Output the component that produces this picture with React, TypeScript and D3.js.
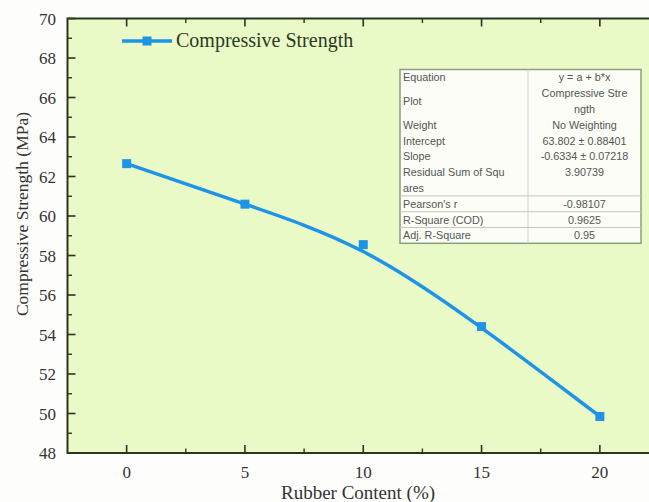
import React from "react";
import * as d3 from "d3";

// data
const rubberContent = [0, 5, 10, 15, 20];
const compressiveStrength = [62.65, 60.6, 58.55, 54.4, 49.85];
const xMajorTicks = [0, 5, 10, 15, 20];
const xMinorTicks = [2.5, 7.5, 12.5, 17.5];
const yMajorTicks = [48, 50, 52, 54, 56, 58, 60, 62, 64, 66, 68, 70];
const yMinorTicks = [49, 51, 53, 55, 57, 59, 61, 63, 65, 67, 69];
const seriesName = "Compressive Strength";

const tableLabels = [
  ["Equation"],
  ["Plot"],
  ["Weight"],
  ["Intercept"],
  ["Slope"],
  ["Residual Sum of Squ", "ares"],
  ["Pearson's r"],
  ["R-Square (COD)"],
  ["Adj. R-Square"],
];
const tableValues = [
  ["y = a + b*x"],
  ["Compressive Stre", "ngth"],
  ["No Weighting"],
  ["63.802 ± 0.88401"],
  ["-0.6334 ± 0.07218"],
  ["3.90739"],
  ["-0.98107"],
  ["0.9625"],
  ["0.95"],
];

const W = 649;
const H = 502;
const left = 67.5;
const right = 659;
const top = 18.5;
const bottom = 453;
const lineColor = "#1f93e6";
const axisColor = "#2b3421";
const serif = "'Liberation Serif', 'Times New Roman', serif";
const sans = "'Liberation Sans', Arial, sans-serif";

const App = () => {
  const x = d3.scaleLinear().domain([-2.5, 22.5]).range([left, right]);
  const y = d3.scaleLinear().domain([48, 70]).range([bottom, top]);
  const pts = rubberContent.map((d, i) => [x(d), y(compressiveStrength[i])] as [number, number]);
  // Origin-style B-spline connector
  const line = d3.line().curve(d3.curveBasis);

  // table layout
  const tX0 = 400, tX1 = 528, tX2 = 641, tY0 = 69.5;
  const lh = 15.8;
  let cur = tY0;
  const rows = tableLabels.map((lab, i) => {
    const n = Math.max(lab.length, tableValues[i].length);
    const r = { y0: cur, n, lab, val: tableValues[i] };
    cur += n * lh;
    return r;
  });
  const tY1 = cur;

  return (
    <div style={{ position: "absolute", left: 0, top: 0 }}>
      <svg width={W} height={H} style={{ display: "block" }}>
        <rect x={0} y={0} width={W} height={H} fill="#fdfdfb" />
        <rect x={left} y={top} width={right - left} height={bottom - top} fill="#e9fac6" />

        {/* axes frame */}
        <rect x={left} y={top} width={right - left} height={bottom - top} fill="none" stroke={axisColor} strokeWidth={2} />

        {/* y ticks */}
        {yMajorTicks.map((t) => (
          <g key={"ym" + t}>
            <line x1={left} x2={left + 8} y1={y(t)} y2={y(t)} stroke={axisColor} strokeWidth={1.6} />
            <text x={56} y={y(t) + 6} textAnchor="end" fontFamily={serif} fontSize={17} fill="#333">
              {t}
            </text>
          </g>
        ))}
        {yMinorTicks.map((t) => (
          <line key={"yn" + t} x1={left} x2={left + 4.5} y1={y(t)} y2={y(t)} stroke={axisColor} strokeWidth={1.4} />
        ))}

        {/* x ticks (bottom and top) */}
        {xMajorTicks.map((t) => (
          <g key={"xm" + t}>
            <line x1={x(t)} x2={x(t)} y1={bottom} y2={bottom - 8} stroke={axisColor} strokeWidth={1.6} />
            <line x1={x(t)} x2={x(t)} y1={top} y2={top + 8} stroke={axisColor} strokeWidth={1.6} />
            <text x={x(t)} y={478} textAnchor="middle" fontFamily={serif} fontSize={17} fill="#333">
              {t}
            </text>
          </g>
        ))}
        {xMinorTicks.map((t) => (
          <g key={"xn" + t}>
            <line x1={x(t)} x2={x(t)} y1={bottom} y2={bottom - 4.5} stroke={axisColor} strokeWidth={1.4} />
            <line x1={x(t)} x2={x(t)} y1={top} y2={top + 4.5} stroke={axisColor} strokeWidth={1.4} />
          </g>
        ))}

        {/* axis titles */}
        <text x={358} y={499} textAnchor="middle" fontFamily={serif} fontSize={19} fill="#333">
          Rubber Content (%)
        </text>
        <text
          transform={`translate(28,${214}) rotate(-90)`}
          textAnchor="middle"
          fontFamily={serif}
          fontSize={17.5}
          fill="#333"
        >
          Compressive Strength (MPa)
        </text>

        {/* series */}
        <path d={line(pts) || ""} fill="none" stroke={lineColor} strokeWidth={3.5} />
        {pts.map((p, i) => (
          <rect key={i} x={p[0] - 4.5} y={p[1] - 4.5} width={9} height={9} fill={lineColor} />
        ))}

        {/* legend */}
        <line x1={122} x2={172} y1={41} y2={41} stroke={lineColor} strokeWidth={3.5} />
        <rect x={142.5} y={36.5} width={9} height={9} fill={lineColor} />
        <text x={176} y={47} fontFamily={serif} fontSize={20} fill="#2a3a22">
          {seriesName}
        </text>

        {/* fit table */}
        <rect x={tX0} y={tY0} width={tX2 - tX0} height={tY1 - tY0} fill="#fbfdf6" stroke="#8e9c82" strokeWidth={1.5} />
        <line x1={tX1} x2={tX1} y1={tY0} y2={tY1} stroke="#d2d5cb" strokeWidth={1} />
        {rows.map((r, i) => (
          <g key={"row" + i}>
            {i >= 6 && (
              <line x1={tX0} x2={tX2} y1={r.y0} y2={r.y0} stroke="#c4c8bc" strokeWidth={1} />
            )}
            {r.lab.map((s, k) => (
              <text
                key={"l" + k}
                x={tX0 + 3}
                y={r.y0 + (r.n === 2 && r.lab.length === 1 ? lh / 2 : 0) + k * lh + lh / 2 + 4}
                fontFamily={sans}
                fontSize={10.8}
                fill="#555"
              >
                {s}
              </text>
            ))}
            {r.val.map((s, k) => (
              <text
                key={"v" + k}
                x={(tX1 + tX2) / 2}
                y={r.y0 + k * lh + lh / 2 + 4}
                textAnchor="middle"
                fontFamily={sans}
                fontSize={10.8}
                fill="#555"
              >
                {s}
              </text>
            ))}
          </g>
        ))}
      </svg>
    </div>
  );
};

export default App;
